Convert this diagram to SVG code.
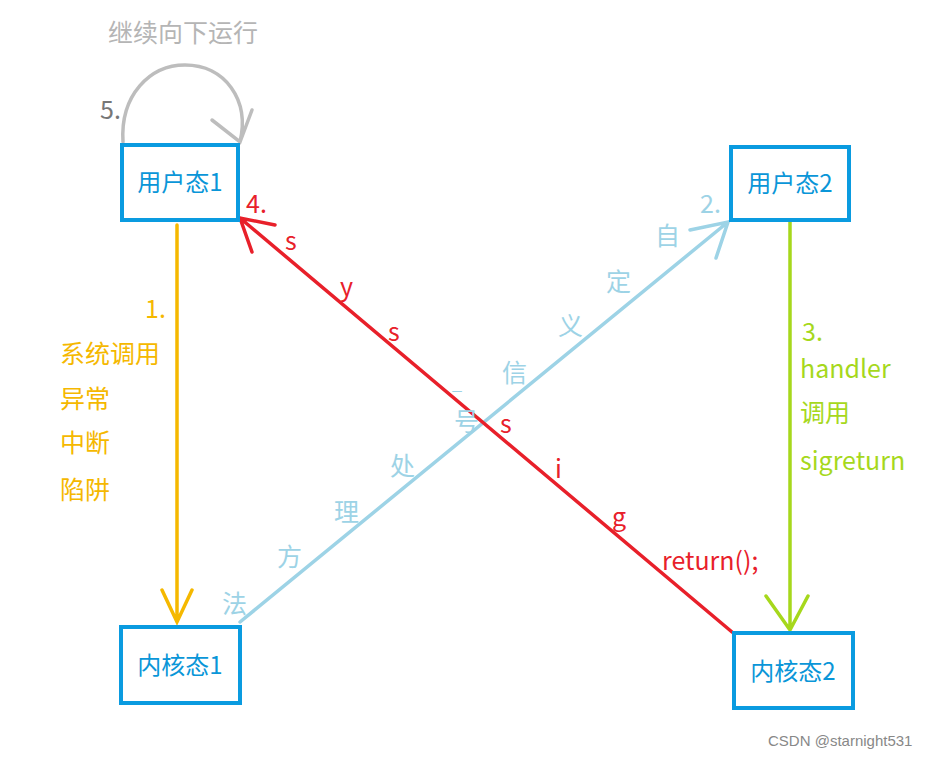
<svg xmlns="http://www.w3.org/2000/svg" width="949" height="759" viewBox="0 0 949 759">
<style>
.box{fill:#fff;stroke:#0a9be0;stroke-width:4}
.bt{font-family:"Noto Sans CJK SC",sans-serif;font-size:24px;fill:#0a96d8}
.t{font-family:"Noto Sans CJK SC",sans-serif;font-size:25px}
.o{fill:#f5b800}.b{fill:#9dd3e6}.g{fill:#a6d81c}.r{fill:#e8202a}.gr{fill:#b5b5b5}
</style>
<rect width="949" height="759" fill="#fff"/>
<g id="connectors" fill="none" stroke-width="3.5" stroke-linecap="round">
<path d="M177 225V622M162 590L177 622L192 590" stroke="#f5b800"/>
<path d="M240 622L728 222M690 230L728 222L716 258" stroke="#9dd3e6"/>
<path d="M790 222V630M766 596L790 630L808 596" stroke="#a6d81c"/>
<path d="M732 632L240 218M275 225L240 218L252 252" stroke="#e8202a"/>
<path d="M123 142C120 95 150 65 185 65C225 65 250 100 240 142M212 120L240 142L252 110" stroke="#bdbdbd"/>
</g>
<g id="n1"><rect class="box" x="122" y="145" width="116" height="75"/><text class="bt" x="180" y="191" text-anchor="middle">用户态1</text></g>
<g id="n2"><rect class="box" x="731" y="147" width="118" height="73"/><text class="bt" x="790" y="192" text-anchor="middle">用户态2</text></g>
<g id="n3"><rect class="box" x="121" y="627" width="119" height="76"/><text class="bt" x="180" y="674" text-anchor="middle">内核态1</text></g>
<g id="n4"><rect class="box" x="734" y="633" width="119" height="75"/><text class="bt" x="793" y="680" text-anchor="middle">内核态2</text></g>
<g class="t">
<text class="gr" x="108" y="42">继续向下运行</text>
<text x="100" y="119" fill="#777">5.</text>
<text class="o" x="145" y="318">1.</text>
<text class="o" x="60" y="363">系统调用</text>
<text class="o" x="60" y="408">异常</text>
<text class="o" x="60" y="452">中断</text>
<text class="o" x="60" y="499">陷阱</text>
<text class="b" x="222" y="613">法</text>
<text class="b" x="277" y="566">方</text>
<text class="b" x="334" y="521">理</text>
<text class="b" x="390" y="475">处</text>
<text class="b" x="454" y="431">号</text>
<text class="b" x="452" y="390" font-size="18">_</text>
<text class="b" x="502" y="382">信</text>
<text class="b" x="558" y="335">义</text>
<text class="b" x="606" y="291">定</text>
<text class="b" x="655" y="245">自</text>
<text class="b" x="700" y="213">2.</text>
<text class="g" x="802" y="341">3.</text>
<text class="g" x="800" y="378">handler</text>
<text class="g" x="800" y="422">调用</text>
<text class="g" x="800" y="470">sigreturn</text>
<text class="r" x="246" y="213">4.</text>
<text class="r" x="285" y="250">s</text>
<text class="r" x="340" y="296">y</text>
<text class="r" x="388" y="341">s</text>
<text class="r" x="500" y="433">s</text>
<text class="r" x="555" y="478">i</text>
<text class="r" x="612" y="526">g</text>
<text class="r" x="662" y="570">return();</text>
</g>
<text x="768" y="746" font-family="Liberation Sans,sans-serif" font-size="15" fill="#888">CSDN @starnight531</text>
</svg>
